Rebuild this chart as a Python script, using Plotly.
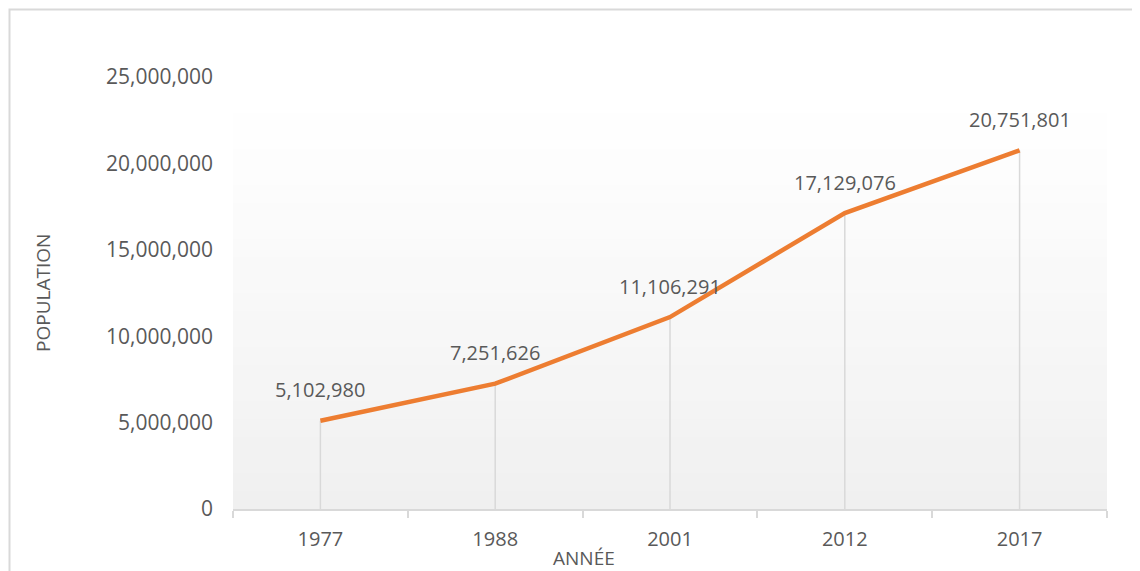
import plotly.graph_objects as go

years = ["1977", "1988", "2001", "2012", "2017"]
population = [5102980, 7251626, 11106291, 17129076, 20751801]
y_ticks = [0, 5000000, 10000000, 15000000, 20000000, 25000000]
y_tick_labels = ["0", "5,000,000", "10,000,000", "15,000,000", "20,000,000", "25,000,000"]
x_title = "ANNÉE"
y_title = "POPULATION"

FONT = "Open Sans"
TXT = "#595959"
OFF = 8  # page body margin
W, H = 1140, 571
# target plot area on page: x 233..1107, y 77..509
L, T = 233 - OFF, 77 - OFF
R = (W + OFF) - 1107
B = (H + OFF) - 509
pw, ph = W - L - R, H - T - B

def px_x(x):  # page px -> paper
    return (x - OFF - L) / pw

def px_y(y):
    return (T + ph - (y - OFF)) / ph

fig = go.Figure()

# drop lines from each point to the axis
dx, dy = [], []
for yr, v in zip(years, population):
    dx += [yr, yr, None]
    dy += [0, v, None]
fig.add_trace(go.Scatter(x=dx, y=dy, mode="lines",
                         line=dict(color="#d9d9d9", width=1.5),
                         hoverinfo="skip", showlegend=False))

fig.add_trace(go.Scatter(x=years, y=population, mode="lines",
                         line=dict(color="#ED7D31", width=4.5),
                         showlegend=False))

for i, v in enumerate(population):
    fig.add_annotation(x=i, y=v, xref="x", yref="y", text=f"{v:,}",
                       showarrow=False, yshift=31,
                       xanchor="center", yanchor="middle",
                       font=dict(family=FONT, size=20, color=TXT))

# gradient background of plot area
n = 24
shapes = []
for i in range(n):
    t = i / (n - 1)
    g = round(255 - (255 - 240) * (1 - t) ** 1.2)
    shapes.append(dict(type="rect", xref="paper", yref="paper",
                       x0=0, x1=1, y0=i / n, y1=(i + 1) / n,
                       fillcolor=f"rgb({g},{g},{g})", line=dict(width=0),
                       layer="below"))
# outer border
shapes.append(dict(type="rect", xref="paper", yref="paper",
                   x0=px_x(9.5), x1=px_x(1160), y0=px_y(9.5), y1=px_y(590),
                   line=dict(color="#d9d9d9", width=2), fillcolor="rgba(0,0,0,0)",
                   layer="below"))

fig.add_annotation(x=px_x(584), y=px_y(558), xref="paper", yref="paper",
                   text=x_title, showarrow=False, xanchor="center", yanchor="middle",
                   font=dict(family=FONT, size=19, color=TXT))
fig.add_annotation(x=px_x(43), y=px_y(293), xref="paper", yref="paper",
                   text=y_title, showarrow=False, textangle=-90,
                   xanchor="center", yanchor="middle",
                   font=dict(family=FONT, size=19, color=TXT))

fig.update_layout(
    width=W, height=H,
    margin=dict(l=L, r=R, t=T, b=B),
    paper_bgcolor="white", plot_bgcolor="rgba(0,0,0,0)",
    shapes=shapes,
    font=dict(family=FONT, size=20, color=TXT),
    xaxis=dict(type="category", range=[-0.5, 4.5], showgrid=False,
               showline=True, linecolor="#d9d9d9", linewidth=1.5,
               ticks="outside", tickson="boundaries", ticklen=7,
               tickcolor="#d9d9d9", tickwidth=1.5,
               tickfont=dict(family=FONT, size=20, color=TXT),
               ticklabelstandoff=11, zeroline=False),
    yaxis=dict(range=[0, 25000000], tickvals=y_ticks, ticktext=y_tick_labels,
               showgrid=False, zeroline=False, showline=False,
               tickfont=dict(family=FONT, size=21, color=TXT),
               ticklabelstandoff=19),
)

fig.write_html("out.html")
